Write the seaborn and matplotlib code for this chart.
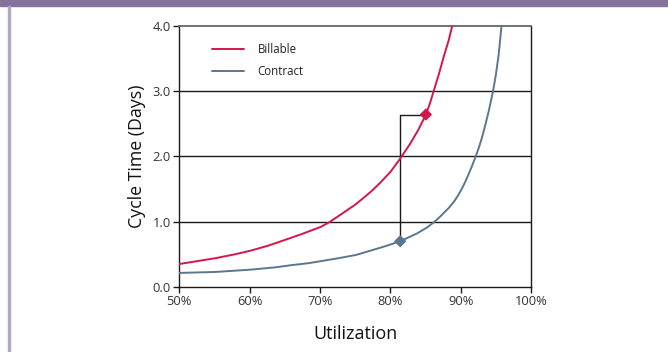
import matplotlib
matplotlib.use("Agg")
import matplotlib.pyplot as plt
import seaborn as sns
import pandas as pd
from matplotlib.lines import Line2D
from matplotlib.patches import Rectangle

# Cycle time (days) against utilization (%) for the two work types
billable_util = [49.9, 52.2, 55.1, 57.9, 60.1, 62.7, 65.0, 67.4, 70.1, 71.3, 73.1, 75.0,
                 76.2, 77.4, 78.5, 80.0, 81.3, 82.8, 84.0, 85.05, 85.6, 86.1, 86.9, 87.6,
                 88.3, 88.8]
billable_days = [0.35, 0.39, 0.44, 0.50, 0.555, 0.635, 0.72, 0.81, 0.92, 0.99, 1.12, 1.26,
                 1.365, 1.475, 1.59, 1.76, 1.95, 2.19, 2.41, 2.64, 2.80, 2.98, 3.26, 3.53,
                 3.78, 4.0]
contract_util = [49.9, 55.1, 60.1, 63.6, 66.0, 68.4, 70.1, 72.6, 75.1, 76.2, 79.0, 81.4,
                 83.8, 85.2, 86.3, 87.1, 88.3, 89.0, 89.5, 90.1, 90.6, 91.1, 91.6, 92.1,
                 92.6, 93.0, 93.5, 94.0, 94.6, 95.0, 95.4, 95.8]
contract_days = [0.215, 0.23, 0.265, 0.30, 0.335, 0.365, 0.395, 0.44, 0.49, 0.525, 0.615, 0.70,
                 0.82, 0.91, 1.0, 1.08, 1.21, 1.30, 1.38, 1.49, 1.60, 1.72, 1.85, 1.99,
                 2.14, 2.28, 2.48, 2.70, 3.0, 3.25, 3.56, 4.0]

# Operating points highlighted on each curve
point_series = ["Billable", "Contract"]
point_util = [85.05, 81.4]
point_days = [2.64, 0.70]

x_ticks = [50, 60, 70, 80, 90, 100]
x_tick_labels = ["50%", "60%", "70%", "80%", "90%", "100%"]
y_ticks = [0.0, 1.0, 2.0, 3.0, 4.0]
y_tick_labels = ["0.0", "1.0", "2.0", "3.0", "4.0"]

colors = {"Billable": "#d61548", "Contract": "#5b7691"}

curves = pd.concat([
    pd.DataFrame({"Utilization": billable_util, "Days": billable_days, "Series": "Billable"}),
    pd.DataFrame({"Utilization": contract_util, "Days": contract_days, "Series": "Contract"}),
], ignore_index=True)
points = pd.DataFrame({"Utilization": point_util, "Days": point_days, "Series": point_series})

sns.set_style("white")
plt.rcParams["font.family"] = ["Open Sans", "DejaVu Sans"]

fig = plt.figure(figsize=(6.68, 3.52), dpi=100)
ax = fig.add_axes([0.2684, 0.1847, 0.5266, 0.7423])

# horizontal grid lines
for yv in y_ticks[1:4]:
    ax.axhline(yv, color="#1a1a1a", lw=1.0, zorder=1)

sns.lineplot(data=curves, x="Utilization", y="Days", hue="Series", palette=colors,
             sort=False, estimator=None, lw=1.4, legend=False, ax=ax, zorder=3,
             solid_joinstyle="round", solid_capstyle="round")

# connector from the contract point up to the billable point
bx, by = point_util[0], point_days[0]
cx, cy = point_util[1], point_days[1]
ax.plot([cx, cx, bx], [cy, by, by], color="#1a1a1a", lw=1.0, zorder=2)

sns.scatterplot(data=points, x="Utilization", y="Days", hue="Series", palette=colors,
                marker="D", s=40, edgecolor="none", legend=False, ax=ax, zorder=4)

ax.set_xlim(50, 100)
ax.set_ylim(0, 4)
ax.set_xticks(x_ticks)
ax.set_xticklabels(x_tick_labels)
ax.set_yticks(y_ticks)
ax.set_yticklabels(y_tick_labels)
ax.tick_params(axis="both", direction="out", length=4, width=1, color="#1a1a1a",
               labelsize=9.3, labelcolor="#333333", pad=2, left=True, bottom=True)
for side in ["left", "bottom", "right"]:
    ax.spines[side].set_color("#1a1a1a")
    ax.spines[side].set_linewidth(1.0)
ax.spines["top"].set_color("#666666")
ax.spines["top"].set_linewidth(1.3)

ax.set_xlabel("Utilization", fontsize=13, color="#111111", labelpad=12)
ax.set_ylabel("Cycle Time (Days)", fontsize=12.8, color="#111111", labelpad=5)

handles = [Line2D([0], [0], color=colors[s], lw=1.4) for s in point_series]
ax.legend(handles, point_series, loc="upper left", bbox_to_anchor=(0.093, 0.935),
          frameon=False, fontsize=8.3, handlelength=2.8, handletextpad=1.15,
          labelspacing=0.8, borderpad=0, borderaxespad=0, labelcolor="#222222")

# page frame: bar across the top and rule down the left edge
fig.patches.append(Rectangle((0, 1 - 6 / 352), 1, 6 / 352, transform=fig.transFigure,
                             color="#86729b", zorder=0))
fig.patches.append(Rectangle((8 / 668, 0), 1.6 / 668, 1 - 6 / 352, transform=fig.transFigure,
                             color="#b3a7c5", zorder=0))

fig.savefig("out.png", dpi=100)
